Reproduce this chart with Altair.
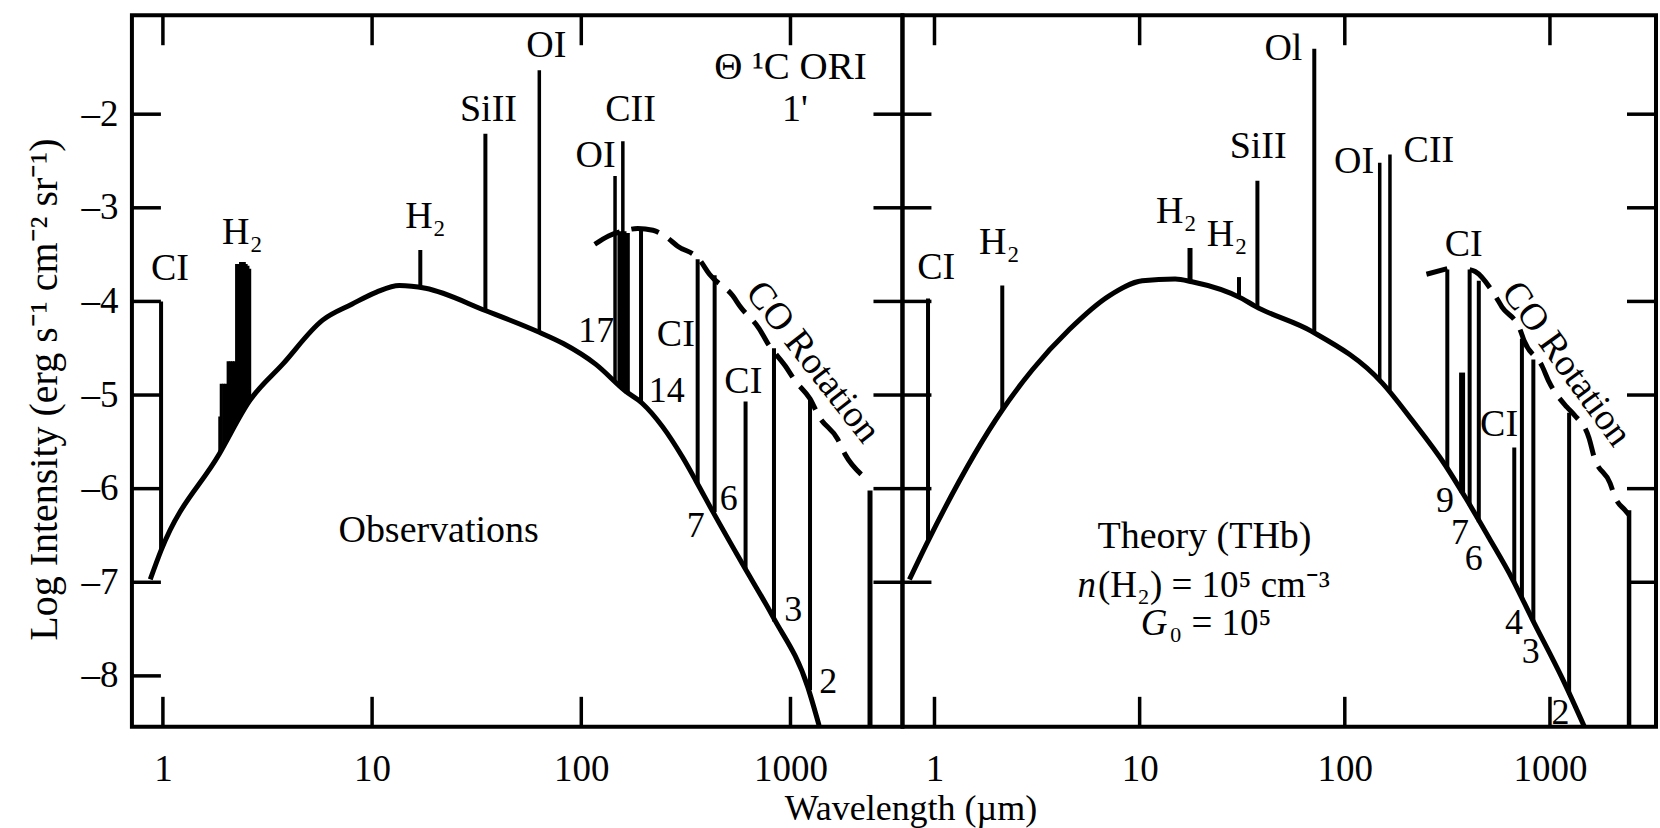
import altair as alt
import pandas as pd

FONT = "Liberation Serif"
Y_DOMAIN = [-8.544, -0.943]
Y_TICKS = [-2, -3, -4, -5, -6, -7, -8]
Y_TICKS_INNER = [-2, -3, -4, -5, -6, -7]
X_TICKS = [1, 10, 100, 1000]
LEFT_DOMAIN = [0.711, 3430]
RIGHT_DOMAIN = [0.698, 3288]
LEFT_W, RIGHT_W, H = 771, 754, 712

# ---------------- Observations (left panel) ----------------
obs_cont_x = [0.87, 0.98, 1.86, 2.6, 3.74, 5.8, 8.0, 10.5, 13.5, 18.0, 35.0, 63.0, 82.0,
              117.0, 163.0, 196.0, 245.0, 304.0, 354.0, 424.0, 588.0, 825.0, 1210.0, 1370.0]
obs_cont_y = [-6.97, -6.66, -5.63, -5.06, -4.67, -4.2, -4.03, -3.9, -3.83, -3.86, -4.10, -4.33, -4.45,
              -4.67, -4.96, -5.09, -5.34, -5.66, -5.92, -6.24, -6.80, -7.37, -8.12, -8.53]

obs_line_x = [0.98, 1.87, 1.9, 1.95, 2.0, 2.05, 2.1, 2.15, 2.2, 2.25, 2.3, 2.35, 2.4, 2.45, 2.5, 2.55, 2.6,
              17.0, 34.8, 63.0, 145.0, 153.0, 158.0, 160.0, 166.0, 193.0, 360.0, 434.0, 610.0, 834.0, 1240.0, 2400.0]
obs_line_bottom = [-6.66, -5.62, -5.59, -5.55, -5.51, -5.46, -5.42, -5.38, -5.34, -5.30, -5.27, -5.23, -5.20,
                   -5.16, -5.13, -5.10, -5.06, -3.86, -4.10, -4.33, -4.86, -4.91, -4.94, -4.95, -4.99, -5.08,
                   -5.95, -6.25, -6.85, -7.42, -8.15, -8.55]
obs_line_top = [-4.0, -5.23, -4.88, -4.88, -4.88, -4.64, -4.64, -4.64, -4.64, -3.6, -3.6, -3.58, -3.58,
                -3.58, -3.6, -3.62, -3.65, -3.45, -2.21, -1.53, -2.66, -3.25, -2.29, -3.25, -3.27, -3.24,
                -3.55, -3.72, -5.07, -4.50, -5.04, -6.02]
obs_line_w = [4, 3, 3, 3, 3, 3, 3, 3, 3, 3, 3, 3, 3, 3, 3, 3, 3,
              4, 4, 3.5, 3.5, 5, 3.5, 5, 5, 4, 4, 4, 4, 4, 4, 5]

obs_co_seg = [0] * 20
obs_co_x = [116, 135, 158, 186, 220, 254, 289, 366, 410, 530, 577, 708, 780, 945, 1055, 1240, 1370, 1680, 1820, 2210]
obs_co_y = [-3.39, -3.30, -3.25, -3.22, -3.24, -3.31, -3.41, -3.55, -3.71, -3.94, -4.06, -4.29, -4.45, -4.69,
            -4.85, -5.04, -5.23, -5.47, -5.63, -5.86]

obs_lab_text = ["CI", "H₂", "H₂", "SiII", "OI", "CII", "OI", "Θ ¹C ORI", "1'", "17", "14", "CI", "CI",
                "CO Rotation", "7", "6", "3", "2", "Observations"]
obs_lab_x = [1.08, 2.4, 18.0, 36.0, 68.0, 172.0, 117.0, 1000.0, 1050.0, 118.0, 256.0, 283.0, 595.0,
             1277.0, 352.0, 507.0, 1030.0, 1515.0, 20.8]
obs_lab_y = [-3.65, -3.27, -3.1, -1.96, -1.27, -1.95, -2.45, -1.5, -1.95, -4.32, -4.96, -4.36, -4.86,
             -4.65, -6.40, -6.11, -7.30, -8.07, -6.45]
obs_lab_angle = [0, 0, 0, 0, 0, 0, 0, 0, 0, 0, 0, 0, 0, 52, 0, 0, 0, 0, 0]
obs_lab_size = [38, 38, 38, 38, 38, 38, 38, 39, 38, 36, 36, 38, 38, 38, 36, 36, 36, 36, 38]

# ---------------- Theory (right panel) ----------------
th_cont_x = [0.755, 0.93, 2.14, 3.0, 4.54, 7.1, 10.3, 14.9, 18.0, 31.6, 36.5, 69.0, 152.0, 213.0,
             309.0, 386.0, 506.0, 654.0, 818.0, 1150.0, 1490.0]
th_cont_y = [-6.97, -6.56, -5.16, -4.73, -4.30, -3.94, -3.78, -3.76, -3.79, -3.97, -4.05, -4.32, -4.87, -5.27,
             -5.75, -6.09, -6.53, -6.96, -7.39, -8.03, -8.57]

th_line_x = [0.93, 2.14, 17.6, 30.5, 37.5, 71.0, 148.0, 166.0, 316.0, 373.0, 406.0, 450.0, 670.0, 730.0,
             830.0, 1240.0, 2430.0]
th_line_bottom = [-6.56, -5.16, -3.78, -3.96, -4.06, -4.34, -4.84, -4.95, -5.78, -6.04, -6.18, -6.36, -7.0,
                  -7.17, -7.42, -8.2, -8.55]
th_line_top = [-3.97, -3.83, -3.43, -3.74, -2.71, -1.30, -2.52, -2.43, -3.66, -4.76, -3.66, -3.78, -5.56,
               -4.40, -4.62, -5.19, -6.23]
th_line_w = [4, 4, 5, 4, 4, 4, 3.5, 3.5, 4, 6, 4, 4, 4, 4, 4, 4, 4.5]

th_co_seg = [0, 0] + [1] * 16
th_co_x = [250, 316, 406, 432, 534, 584, 715, 748, 915, 990, 1211, 1310, 1550, 1640, 1963, 2075, 2322, 2430]
th_co_y = [-3.71, -3.65, -3.66, -3.68, -3.92, -4.06, -4.30, -4.42, -4.69, -4.86, -5.13, -5.21, -5.46,
           -5.66, -5.94, -6.09, -6.23, -6.28]

th_lab_text = ["CI", "H₂", "H₂", "H₂", "SiII", "Ol", "OI", "CII", "CI", "CO Rotation", "CI", "9", "7", "6",
               "4", "3", "2", "Theory (THb)"]
th_lab_x = [1.02, 2.07, 15.1, 26.7, 37.8, 50.2, 111.0, 257.0, 380.0, 1200.0, 565.0, 308.0, 364.0, 425.0,
            667.0, 805.0, 1125.0, 20.7]
th_lab_y = [-3.64, -3.38, -3.05, -3.29, -2.35, -1.30, -2.51, -2.39, -3.40, -4.67, -5.32, -6.13, -6.47, -6.75,
            -7.43, -7.74, -8.40, -6.52]
th_lab_angle = [0, 0, 0, 0, 0, 0, 0, 0, 0, 54, 0, 0, 0, 0, 0, 0, 0, 0]
th_lab_size = [38, 38, 38, 38, 38, 38, 38, 38, 38, 38, 38, 36, 36, 36, 36, 36, 36, 38]

# model-parameter lines: italic symbol followed by upright remainder
th_sym_text = ["n", "G"]
th_sym_rest = ["(H₂) = 10⁵ cm⁻³", "₀ = 10⁵"]
th_sym_x = [6.2, 13.8]
th_sym_y = [-7.04, -7.45]


def build_panel(cont_x, cont_y, lx, lb, lt, lw, seg, cx, cy, tt, tx, ty, ta, ts,
                x_domain, width, left_panel, left_ticks, right_ticks, sym=None):
    xs = alt.Scale(type="log", domain=x_domain, nice=False)
    ys = alt.Scale(domain=Y_DOMAIN, nice=False, zero=False)
    if left_panel:
        xaxis = alt.Axis(values=X_TICKS, format="d", labelPadding=43, labelBaseline="middle",
                         title="Wavelength (µm)", titleX=779, titleY=93, titleBaseline="alphabetic",
                         titleAlign="center", titleFontSize=36)
        yaxis = alt.Axis(values=Y_TICKS, format="d", labelPadding=14, labelBaseline="middle",
                         labelExpr="'–' + abs(datum.value)",
                         title="Log Intensity (erg s⁻¹ cm⁻² sr⁻¹)", titleX=-87, titleY=374,
                         titleAngle=270, titleBaseline="middle", titleAlign="center", titleFontSize=40)
    else:
        xaxis = alt.Axis(values=X_TICKS, format="d", labelPadding=43, labelBaseline="middle", title=None)
        yaxis = None

    def X(f):
        return alt.X(f, type="quantitative", scale=xs, axis=xaxis)

    def Y(f):
        return alt.Y(f, type="quantitative", scale=ys, axis=yaxis)

    lines_df = pd.DataFrame({"x": lx, "b": lb, "t": lt, "w": lw})
    cont_df = pd.DataFrame({"x": cont_x, "y": cont_y})
    co_df = pd.DataFrame({"x": cx, "y": cy, "seg": seg})
    lab_df = pd.DataFrame({"x": tx, "y": ty, "t": tt, "a": ta, "s": ts})

    lines = alt.Chart(lines_df).mark_rule(color="black", clip=True).encode(
        x=X("x"), y=Y("b"), y2="t", strokeWidth=alt.StrokeWidth("w:Q", scale=None))
    cont = alt.Chart(cont_df).mark_line(color="black", strokeWidth=5, interpolate="monotone", clip=True).encode(
        x=X("x"), y=Y("y"))
    co = alt.Chart(co_df).mark_line(color="black", strokeWidth=5, strokeDash=[28, 12],
                                    interpolate="monotone", clip=True).encode(
        x=X("x"), y=Y("y"), detail="seg:N")
    labels = alt.Chart(lab_df).mark_text(font=FONT, color="black", baseline="middle", align="center").encode(
        x=X("x"), y=Y("y"), text="t:N", angle=alt.Angle("a:Q", scale=None), size=alt.Size("s:Q", scale=None))

    lt_df = pd.DataFrame({"v": left_ticks})
    rt_df = pd.DataFrame({"v": right_ticks})
    xt_df = pd.DataFrame({"v": X_TICKS})
    tick_l = alt.Chart(lt_df).mark_rule(color="black", strokeWidth=3.5).encode(
        y=Y("v"), x=alt.value(0), x2=alt.value(29))
    tick_r = alt.Chart(rt_df).mark_rule(color="black", strokeWidth=3.5).encode(
        y=Y("v"), x=alt.value(width - 29), x2=alt.value(width))
    tick_b = alt.Chart(xt_df).mark_rule(color="black", strokeWidth=3.5).encode(
        x=X("v"), y=alt.value(H - 30), y2=alt.value(H))
    tick_t = alt.Chart(xt_df).mark_rule(color="black", strokeWidth=3.5).encode(
        x=X("v"), y=alt.value(0), y2=alt.value(30))

    layers = [lines, cont, co, labels, tick_l, tick_r, tick_b, tick_t]
    if sym is not None:
        sym_df = pd.DataFrame({"x": sym[2], "y": sym[3], "s": sym[0], "r": sym[1]})
        layers.append(alt.Chart(sym_df).mark_text(font=FONT, fontSize=37, fontStyle="italic", color="black",
                                                  baseline="middle", align="right", dx=-1).encode(
            x=X("x"), y=Y("y"), text="s:N"))
        layers.append(alt.Chart(sym_df).mark_text(font=FONT, fontSize=37, color="black",
                                                  baseline="middle", align="left", dx=1).encode(
            x=X("x"), y=Y("y"), text="r:N"))

    return alt.layer(*layers).properties(width=width, height=H)


left = build_panel(obs_cont_x, obs_cont_y, obs_line_x, obs_line_bottom, obs_line_top, obs_line_w,
                   obs_co_seg, obs_co_x, obs_co_y, obs_lab_text, obs_lab_x, obs_lab_y, obs_lab_angle,
                   obs_lab_size, LEFT_DOMAIN, LEFT_W, True, Y_TICKS, Y_TICKS_INNER)
right = build_panel(th_cont_x, th_cont_y, th_line_x, th_line_bottom, th_line_top, th_line_w,
                    th_co_seg, th_co_x, th_co_y, th_lab_text, th_lab_x, th_lab_y, th_lab_angle,
                    th_lab_size, RIGHT_DOMAIN, RIGHT_W, False, Y_TICKS_INNER, Y_TICKS_INNER,
                    sym=(th_sym_text, th_sym_rest, th_sym_x, th_sym_y))

chart = alt.hconcat(left, right, spacing=0, bounds="flush").properties(
    padding={"left": 22, "top": 11, "right": 0, "bottom": 0},
    background="white",
).configure_view(
    stroke="black", strokeWidth=4
).configure_axis(
    domain=False, ticks=False, grid=False,
    labelFont=FONT, labelFontSize=37, labelColor="black",
    titleFont=FONT, titleColor="black", titleFontWeight="normal"
)

chart.save("out.html", embed_options={"renderer": "svg", "actions": False})
